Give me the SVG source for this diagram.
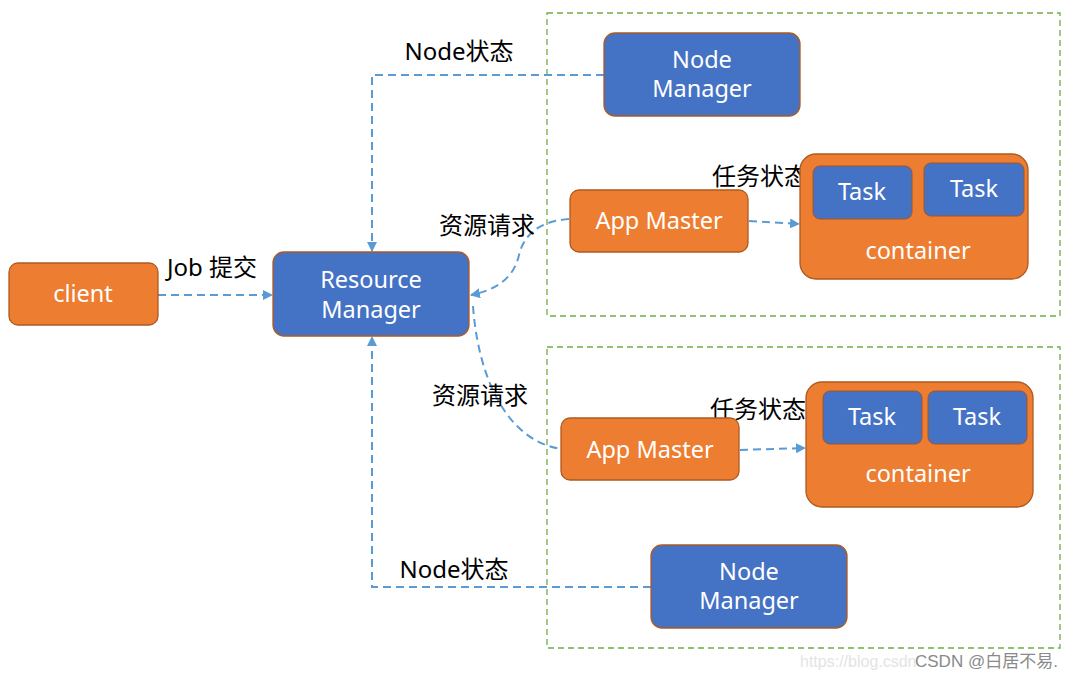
<svg xmlns="http://www.w3.org/2000/svg" width="1080" height="679" viewBox="0 0 1080 679">
<defs>
<style>
.orange{fill:#ED7D31;stroke:#AE5A21;stroke-width:1.3}
.blue{fill:#4472C4;stroke:#AE5A21;stroke-width:1.3}
.task{fill:#4472C4;stroke:#A0552A;stroke-width:1}
.nt{font-family:"Noto Sans","Noto Sans CJK SC",sans-serif;font-size:23.5px;fill:#FFFFFF;text-anchor:middle}
.lb{font-family:"Noto Sans","Noto Sans CJK SC",sans-serif;font-size:24px;fill:#000000;text-anchor:middle}
.conn{fill:none;stroke:#5B9BD5;stroke-width:2;stroke-dasharray:8,5}
.grp{fill:none;stroke:#70AD47;stroke-width:1.3;stroke-dasharray:6,4}
</style>
<marker id="arrL" viewBox="0 0 10 10" refX="9" refY="5" markerWidth="10" markerHeight="10" orient="auto" markerUnits="userSpaceOnUse">
<path d="M0,0 L10,5 L0,10 z" fill="#5B9BD5"/>
</marker>
</defs>
<rect width="1080" height="679" fill="#FFFFFF"/>
<g id="groups">
<rect class="grp" x="547" y="13" width="513" height="303"/>
<rect class="grp" x="547" y="347" width="513" height="301"/>
</g>
<g id="connectors">
<path class="conn" d="M158,295 L272,295" marker-end="url(#arrL)"/>
<path class="conn" d="M604,75 L372,75 L372,251" marker-end="url(#arrL)"/>
<path class="conn" d="M651,587 L372,587 L372,337" marker-end="url(#arrL)"/>
<path class="conn" d="M569,219 Q527,222 519,255 Q512,287 471,295" marker-end="url(#arrL)"/>
<path class="conn" d="M473,306 C478,375 505,440 561,449"/>
<path class="conn" d="M749,221 L799,224" marker-end="url(#arrL)"/>
<path class="conn" d="M740,450 L805,448" marker-end="url(#arrL)"/>
</g>
<g id="labels">
<text class="lb" x="459" y="60">Node状态</text>
<text class="lb" x="212" y="276">Job 提交</text>
<text class="lb" x="487" y="234">资源请求</text>
<text class="lb" x="760" y="185">任务状态</text>
<text class="lb" x="480" y="404">资源请求</text>
<text class="lb" x="758" y="418">任务状态</text>
<text class="lb" x="454" y="578">Node状态</text>
</g>
<g id="client">
<rect class="orange" x="9" y="263" width="149" height="62" rx="9"/>
<text class="nt" x="83" y="302">client</text>
</g>
<g id="resource-manager">
<rect class="blue" x="273" y="252" width="196" height="84" rx="11"/>
<text class="nt" x="371" y="288">Resource</text>
<text class="nt" x="371" y="318">Manager</text>
</g>
<g id="node-manager-1">
<rect class="blue" x="604" y="33" width="196" height="83" rx="11"/>
<text class="nt" x="702" y="68">Node</text>
<text class="nt" x="702" y="97">Manager</text>
</g>
<g id="app-master-1">
<rect class="orange" x="570" y="190" width="178" height="62" rx="9"/>
<text class="nt" x="659" y="229">App Master</text>
</g>
<g id="container-1">
<rect class="orange" x="800" y="154" width="228" height="125" rx="16"/>
<rect class="task" x="813" y="166" width="99" height="53" rx="7"/>
<text class="nt" x="862" y="200">Task</text>
<rect class="task" x="924" y="163" width="100" height="53" rx="7"/>
<text class="nt" x="974" y="197">Task</text>
<text class="nt" x="918" y="259">container</text>
</g>
<g id="app-master-2">
<rect class="orange" x="561" y="418" width="178" height="62" rx="9"/>
<text class="nt" x="650" y="458">App Master</text>
</g>
<g id="container-2">
<rect class="orange" x="806" y="382" width="227" height="125" rx="16"/>
<rect class="task" x="823" y="391" width="99" height="53" rx="7"/>
<text class="nt" x="872" y="425">Task</text>
<rect class="task" x="928" y="391" width="99" height="53" rx="7"/>
<text class="nt" x="977" y="425">Task</text>
<text class="nt" x="918" y="482">container</text>
</g>
<g id="node-manager-2">
<rect class="blue" x="651" y="545" width="196" height="83" rx="11"/>
<text class="nt" x="749" y="580">Node</text>
<text class="nt" x="749" y="609">Manager</text>
</g>
<g id="watermark">
<text x="800" y="667" font-family="'Liberation Sans','Noto Sans CJK SC',sans-serif" font-size="16" fill="#E4E4E4">https://blog.csdn</text>
<text x="915" y="667" font-family="'Liberation Sans','Noto Sans CJK SC',sans-serif" font-size="17" fill="#8A8A8A">CSDN @白居不易.</text>
</g>
</svg>
